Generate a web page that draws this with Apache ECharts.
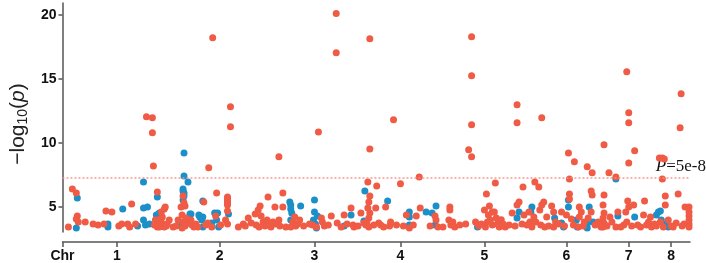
<!DOCTYPE html>
<html>
<head>
<meta charset="utf-8">
<script src="https://cdn.jsdelivr.net/npm/echarts@6/dist/echarts.min.js"></script>
<style>
  html, body { margin: 0; padding: 0; background: #fff; }
  #main { width: 706px; height: 263px; }
</style>
</head>
<body>
<div id="main"></div>
<script>
// cumulative genome position (arbitrary units) of chromosome ticks
const chrTicks = [0, 55, 159, 255, 342, 427, 510, 573, 616];
const chrLabels = ['Chr', '1', '2', '3', '4', '5', '6', '7', '8'];
const yTicks = [5, 10, 15, 20];
const threshold = 7.30; // -log10(5e-8)

// [position, -log10(p)]
const redPoints = [
  [6,3.44],[10,6.41],[14,6.10],[15,4.30],[14,4.07],[16,3.83],[23,3.83],[31,3.68],[44,4.69],[50,4.61],
  [42,3.68],[70,5.24],[66,3.68],[68,3.44],[74,3.68],[85,12.05],[91,11.97],[91,10.80],[92,8.21],[96,6.18],
  [94,3.99],[95,3.60],[98,3.44],[100,3.83],[101,4.22],[100,4.61],[103,4.85],[104,5.01],[102,3.60],[103,3.44],
  [106,3.68],[108,3.99],[97,3.68],[99,4.07],[96,3.44],[93,3.60],[105,3.52],[115,3.52],[117,3.99],[120,5.01],
  [122,5.87],[123,5.32],[124,5.08],[121,4.38],[122,3.83],[124,3.52],[121,3.36],[125,4.15],[127,3.83],[130,3.99],
  [133,3.44],[131,3.60],[137,3.44],[143,5.40],[148,8.06],[147,3.75],[155,4.30],[156,6.10],[151,3.44],[160,3.60],
  [165,3.99],[167,5.79],[167,5.63],[167,5.48],[167,5.32],[167,5.16],[167,4.69],[167,3.68],[152,18.23],[170,12.83],
  [170,11.27],[183,3.68],[188,4.15],[191,3.75],[195,4.46],[198,4.77],[200,5.08],[201,4.30],[203,3.83],[205,3.52],
  [207,3.99],[208,5.79],[209,3.68],[211,3.44],[213,3.83],[215,5.01],[216,3.68],[219,8.92],[219,3.99],[220,3.52],
  [223,6.10],[223,5.01],[196,3.60],[199,3.44],[233,3.83],[235,4.22],[236,3.52],[238,3.68],[240,3.99],[231,3.44],
  [250,3.68],[253,3.60],[259,10.87],[262,4.15],[263,3.83],[257,3.44],[265,3.52],[278,3.75],[285,4.38],[288,3.68],
  [292,4.93],[294,3.60],[295,3.44],[302,4.54],[305,3.75],[309,6.96],[311,5.87],[310,5.40],[309,4.93],[311,4.54],
  [310,4.15],[308,3.83],[307,3.60],[310,3.44],[311,9.54],[311,18.15],[277,20.11],[277,17.06],[318,6.65],[317,4.93],
  [320,3.75],[322,3.60],[315,3.60],[327,5.01],[332,3.83],[331,3.52],[335,11.81],[342,6.81],[348,4.38],[351,3.36],
  [358,4.30],[361,7.35],[362,4.93],[377,4.30],[378,3.99],[380,3.44],[392,5.01],[392,4.77],[391,3.99],[393,3.60],
  [395,3.83],[397,3.44],[408,3.68],[414,18.31],[414,15.26],[414,11.42],[411,9.47],[414,8.92],[418,3.83],[421,3.52],
  [427,4.77],[429,6.02],[431,4.38],[432,5.08],[433,3.99],[435,3.60],[428,3.44],[430,3.83],[437,4.61],[438,6.88],
  [439,4.15],[440,3.68],[442,3.44],[435,4.61],[448,3.44],[455,4.54],[460,5.16],[462,5.40],[460,12.99],[460,11.58],
  [466,6.57],[467,4.38],[472,4.61],[473,3.83],[475,3.44],[477,4.22],[478,6.96],[482,6.57],[479,3.83],[483,4.77],
  [485,5.16],[485,11.97],[487,5.40],[484,3.60],[488,3.44],[495,5.08],[497,4.61],[499,3.83],[497,3.44],[512,9.23],
  [518,8.53],[513,7.20],[513,6.02],[513,5.63],[510,4.38],[515,4.07],[517,3.60],[522,3.44],[523,4.22],[525,4.61],
  [523,5.01],[528,3.83],[531,8.14],[536,7.67],[535,6.26],[536,5.95],[535,4.61],[532,4.15],[542,3.83],[545,3.44],
  [548,9.86],[548,5.95],[547,5.16],[548,4.54],[547,4.15],[548,3.75],[547,3.44],[553,7.67],[554,4.22],[556,3.83],
  [560,7.35],[562,4.61],[560,3.44],[568,3.60],[571,3.83],[571,15.57],[573,12.36],[573,11.58],[573,8.45],[579,9.39],
  [572,5.48],[570,4.61],[573,5.01],[578,5.16],[582,3.60],[585,3.44],[588,4.38],[589,5.48],[593,3.83],[595,4.22],
  [596,3.44],[601,3.52],[605,3.83],[604,8.84],[607,8.84],[609,8.76],[607,7.20],[610,5.87],[610,5.16],[608,3.44],
  [613,3.99],[618,3.44],[621,3.75],[623,6.02],[626,13.85],[625,11.19],[630,5.01],[634,5.01],[634,4.61],[634,4.30],
  [634,3.99],[634,3.68],[634,3.44],[629,3.68],[505,4.61],[508,3.52],[490,4.22],[465,3.68],[452,3.60],[444,4.00],
  [36,3.60],[57,3.52],[60,3.68],[112,3.44],[135,3.68],[145,3.60],[178,3.44],[185,3.52],[226,3.44],[244,3.52],
  [269,3.60],[272,4.30],[282,3.44],[299,3.52],[325,3.44],[338,3.60],[345,3.52],[355,3.60],[372,3.52],[385,3.44],
  [402,3.60],[424,3.68],[446,3.68],[458,3.52],[470,3.60],[492,3.52],[502,3.68],[527,3.52],[539,3.60],[551,3.52],
  [565,3.44],[576,3.52],[591,3.60],[599,3.68],[616,3.52],[627,3.52]
];

const bluePoints = [
  [15,5.71],[14,3.36],[46,3.68],[46,3.44],[61,4.85],[76,3.52],[82,6.96],[82,4.93],[86,5.01],[82,3.99],
  [84,3.60],[88,3.68],[96,5.79],[95,4.38],[98,4.54],[123,9.23],[123,7.43],[127,6.96],[122,6.41],[122,6.26],
  [123,6.10],[123,5.87],[122,5.55],[128,3.75],[129,4.46],[130,4.46],[120,3.52],[139,4.22],[142,4.22],[138,4.38],
  [141,3.99],[142,5.48],[142,3.44],[151,3.75],[154,4.54],[157,4.54],[158,3.44],[156,3.99],[168,4.46],[230,5.40],
  [231,5.16],[231,4.85],[232,4.54],[231,3.99],[241,5.08],[255,5.55],[255,4.61],[258,4.30],[254,3.99],[256,3.68],
  [257,3.36],[285,3.52],[292,4.38],[306,6.26],[305,3.91],[329,5.48],[351,4.61],[351,4.22],[351,3.60],[368,4.61],
  [374,4.54],[378,5.08],[377,3.60],[420,3.44],[462,4.61],[460,4.15],[475,5.01],[474,4.61],[498,4.15],[505,3.75],
  [507,3.44],[512,5.55],[512,5.01],[520,3.99],[521,3.44],[531,3.68],[533,5.01],[537,3.83],[531,3.36],[560,7.20],
  [562,4.30],[579,4.22],[601,4.38],[603,4.61],[605,4.69],[606,3.99],[610,3.68],[613,3.44]
];

const red = '#ef5b45';
const blue = '#1b8fc8';
const axisColor = '#555';

const chart = echarts.init(document.getElementById('main'));
const option = {
  animation: false,
  grid: { left: 55, right: 16, top: 3, bottom: 31 },
  xAxis: {
    type: 'value',
    min: 0,
    max: 635,
    offset: 10,
    axisLine: { show: true, lineStyle: { color: axisColor, width: 1.5 } },
    axisTick: { show: true, length: 5, customValues: chrTicks, lineStyle: { color: axisColor, width: 1.5 } },
    axisLabel: {
      customValues: chrTicks,
      margin: 7,
      formatter: function (v) {
        const i = chrTicks.indexOf(v);
        return i >= 0 ? chrLabels[i] : '';
      },
      color: '#111',
      fontWeight: 'bold',
      fontSize: 14,
      fontFamily: 'Liberation Sans'
    },
    splitLine: { show: false }
  },
  yAxis: {
    type: 'value',
    min: 3.05,
    max: 20.94,
    name: '{a|−log}{s|10}{a|(}{i|p}{a|)}',
    nameLocation: 'middle',
    nameGap: 30,
    nameRotate: 90,
    nameTextStyle: {
      padding: [0, 13, 0, 0],
      rich: {
        a: { fontSize: 21, fontFamily: 'Liberation Sans', color: '#222' },
        i: { fontSize: 21, fontFamily: 'Liberation Sans', fontStyle: 'italic', color: '#222' },
        s: { fontSize: 14, fontFamily: 'Liberation Sans', color: '#222', padding: [9, 0, 0, 0] }
      }
    },
    axisLine: { show: true, lineStyle: { color: axisColor, width: 1.5 } },
    axisTick: { show: true, length: 4, customValues: yTicks, lineStyle: { color: axisColor, width: 1.5 } },
    axisLabel: {
      customValues: yTicks,
      margin: 6,
      color: '#111',
      fontWeight: 'bold',
      fontSize: 14,
      fontFamily: 'Liberation Sans'
    },
    splitLine: { show: false }
  },
  series: [
    {
      type: 'scatter',
      data: bluePoints,
      symbolSize: 7,
      itemStyle: { color: blue, opacity: 1 }
    },
    {
      type: 'scatter',
      data: redPoints,
      symbolSize: 7,
      itemStyle: { color: red, opacity: 1 },
      markLine: {
        silent: true,
        symbol: 'none',
        label: { show: false },
        emphasis: { disabled: true },
        lineStyle: { color: '#f58f86', type: [2, 2], width: 1.5, opacity: 0.9 },
        data: [{ yAxis: threshold }]
      }
    }
  ]
};
chart.setOption(option);

const ty = chart.convertToPixel({ yAxisIndex: 0 }, threshold);
chart.setOption({
  graphic: [{
    type: 'text',
    right: 0,
    top: ty - 20,
    style: {
      text: '{i|P}{a|=5e-8}',
      rich: {
        i: { fontSize: 17, fontFamily: 'Liberation Serif', fontStyle: 'italic', fill: '#111' },
        a: { fontSize: 17, fontFamily: 'Liberation Serif', fill: '#111' }
      }
    }
  }]
});
</script>
</body>
</html>
